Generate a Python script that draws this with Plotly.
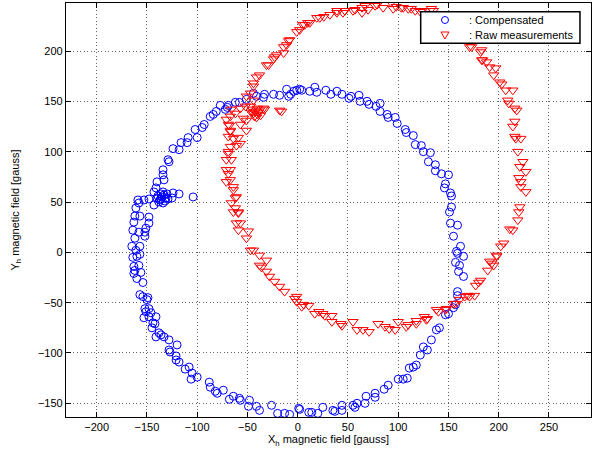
import plotly.graph_objects as go

# Compensated measurements (blue circles)
comp_x = [-141, -143, -140, -134, -134, -133, -129, -128, -124, -118, -116, -110, -109, -102, -100, -95, -93, -87, -84, -81,
          -77, -72, -70, -69, -62, -58, -51, -44, -41, -34, -33, -24, -18, -11, -9, -7, -4, -1, 2, 4,
          12, 17, 19, 28, 33, 39, 44, 51, 53, 61, 62, 69, 71, 78, 82, 82, 89, 90, 97, 99,
          107, 108, 115, 117, 123, 125, 132, 130, 137, 137, 143, 150, 147, 146, 152, 153, 153, 151, 152, 159,
          155, 158, 159, 162, 165, 157, 161, 160, 165, 159, 159, 157, 155, 150, 147, 141, 138, 133, 125, 129,
          122, 118, 115, 111, 109, 105, 100, 90, 86, 77, 77, 68, 67, 59, 55, 57, 44, 44, 35, 37,
          25, 20, 14, 11, 2, 1, -8, -13, -20, -26, -38, -41, -49, -48, -57, -58, -64, -68, -74, -80,
          -82, -87, -88, -100, -106, -105, -108, -112, -118, -121, -121, -127, -128, -120, -128, -133, -136, -141, -138, -145,
          -142, -144, -141, -148, -153, -146, -151, -148, -152, -150, -154, -157, -149, -154, -160, -156, -163, -162, -163, -158,
          -160, -157, -164, -161, -157, -165, -162, -152, -158, -164, -152, -151, -148, -163, -162, -157, -148, -161, -158, -153,
          -148, -143, -159, -135, -137, -133, -131, -136, -138, -132, -134, -130, -139, -134, -129, -136, -140, -125, -124, -118,
          -104]
comp_y = [64, 60, 70, 82, 77, 72, 92, 90, 103, 102, 109, 109, 114, 122, 114, 124, 127, 135, 137, 140,
          146, 142, 144, 146, 149, 149, 152, 158, 155, 154, 157, 157, 156, 162, 155, 157, 160, 161, 162, 161,
          160, 164, 159, 161, 157, 160, 157, 153, 155, 156, 150, 150, 147, 145, 148, 140, 137, 134, 134, 128,
          122, 119, 116, 107, 106, 100, 99, 90, 87, 81, 78, 77, 68, 64, 59, 56, 45, 40, 29, 27,
          16, 1, -1, 6, -4, -10, -13, -19, -24, -39, -43, -52, -55, -61, -62, -75, -77, -87, -94, -97,
          -102, -112, -114, -115, -125, -126, -126, -132, -136, -140, -144, -143, -150, -150, -152, -154, -152, -157, -157, -158,
          -154, -160, -159, -159, -156, -155, -161, -160, -160, -152, -157, -153, -153, -147, -147, -145, -143, -146, -137, -140,
          -138, -134, -129, -124, -126, -120, -114, -116, -109, -107, -103, -99, -97, -92, -87, -84, -82, -84, -80, -75,
          -71, -70, -64, -64, -65, -60, -59, -56, -56, -47, -44, -42, -45, -30, -26, -20, -21, -18, -14, -13,
          -4, -2, -5, 2, 6, 6, 14, 16, 20, 22, 20, 24, 29, 30, 36, 36, 35, 44, 49, 52,
          53, 47, 52, 55, 52, 57, 54, 58, 50, 51, 60, 58, 56, 49, 53, 53, 54, 54, 59, 58,
          55]

# Raw measurements (red triangles)
raw_x = [-1, -3, -1, 6, 4, 11, -13, -18, -23, -28, -31, -38, -36, -31, -38, -44, -47, -49, -51, -59,
         -61, -57, -59, -64, -59, -66, -62, -62, -61, -64, -64, -71, -67, -69, -67, -71, -71, -66, -69, -69,
         -67, -61, -57, -59, -64, -69, -67, -67, -51, -57, -69, -68, -51, -54, -71, -67, -62, -66, -57, -52,
         -44, -42, -40, -45, -38, -43, -40, -46, -41, -39, -47, -37, -44, -51, -47, -44, -44, -41, -38, -34,
         -33, -16, -18, -31, -29, -24, -21, -23, -14, -14, -11, -8, -9, -1, 2, 5, 7, 10, 12, 19,
         22, 26, 32, 39, 39, 45, 47, 55, 57, 64, 64, 67, 70, 77, 79, 85, 93, 95, 98, 103,
         105, 110, 113, 117, 122, 124, 133, 135, 145, 152, 158, 163, 167, 171, 173, 182, 183, 183, 184, 188,
         191, 197, 195, 201, 203, 207, 214, 209, 210, 216, 218, 216, 214, 216, 222, 217, 219, 224, 221, 227,
         220, 222, 222, 227, 221, 220, 219, 211, 214, 205, 202, 198, 198, 191, 195, 189, 193, 182, 180, 177,
         176, 169, 171, 166, 161, 157, 155, 148, 147, 140, 138, 129, 128, 126, 118, 118, 108, 110, 100, 97,
         91, 87, 80, 71, 65, 59, 55, 43, 44, 34, 34, 25, 27, 21, 17]
raw_y = [-44, -46, -49, -52, -54, -53, -39, -34, -29, -24, -19, -13, -15, -8, -3, 2, 2, 21, 14, 22,
         29, 29, 39, 40, 40, 49, 54, 44, 55, 62, 65, 70, 72, 78, 82, 82, 92, 92, 98, 100,
         105, 106, 108, 114, 113, 115, 120, 121, 121, 127, 127, 126, 131, 133, 132, 135, 138, 142, 143, 145,
         138, 140, 137, 142, 141, 135, 143, 139, 134, 139, 145, 136, 151, 155, 158, 165, 168, 174, 176, 143,
         142, 140, 141, 186, 186, 192, 196, 194, 198, 204, 206, 211, 210, 219, 221, 226, 226, 228, 228, 233,
         233, 234, 236, 238, 240, 238, 240, 240, 241, 238, 243, 245, 241, 245, 246, 243, 248, 242, 244, 243,
         243, 242, 242, 240, 239, 240, 242, 240, 236, 232, 226, 219, 212, 204, 204, 199, 201, 191, 191, 189,
         184, 183, 176, 169, 167, 161, 161, 151, 148, 143, 141, 130, 125, 115, 113, 113, 100, 90, 85, 80,
         74, 70, 65, 60, 45, 40, 32, 23, 22, 9, 6, -3, -4, -9, -13, -18, -11, -28, -30, -33,
         -43, -43, -44, -44, -47, -51, -51, -56, -57, -59, -57, -66, -67, -64, -68, -71, -74, -72, -69, -77,
         -76, -74, -71, -79, -77, -77, -69, -71, -73, -63, -69, -61, -63, -59, -61]

x_ticks = [-200, -150, -100, -50, 0, 50, 100, 150, 200, 250]
y_ticks = [-150, -100, -50, 0, 50, 100, 150, 200]
legend_labels = [": Compensated", ": Raw measurements"]

BLUE = "#0000ff"
RED = "#ff0000"

fig = go.Figure()
fig.add_trace(go.Scatter(
    x=comp_x, y=comp_y, mode="markers", name=legend_labels[0], showlegend=False,
    marker=dict(symbol="circle-open", size=8, color=BLUE, line=dict(width=1, color=BLUE)),
))
fig.add_trace(go.Scatter(
    x=raw_x, y=raw_y, mode="markers", name=legend_labels[1], showlegend=False,
    marker=dict(symbol="triangle-down-open", size=9, color=RED, line=dict(width=1, color=RED)),
))

font_family = "Liberation Sans, Arial, sans-serif"
axis_common = dict(
    showline=True, linecolor="black", linewidth=1.2, mirror="ticks",
    ticks="inside", ticklen=5, tickcolor="black", tickwidth=1,
    showgrid=True, gridcolor="rgba(0,0,0,0.6)", griddash="1px,2.5px", gridwidth=1,
    zeroline=False, automargin=False,
    tickfont=dict(family=font_family, size=11, color="black"),
)

# Compact MATLAB-style legend box (drawn above the data, hiding points under it)
lx0, lx1, ly0, ly1 = 0.6756, 0.979, 0.9027, 0.979
sym_x = 0.7219
row_y = [0.9589, 0.9227]
text_x = 0.7632

shapes = [
    dict(type="rect", xref="paper", yref="paper", x0=lx0, x1=lx1, y0=ly0, y1=ly1,
         fillcolor="white", line=dict(color="black", width=1.5), layer="above"),
    dict(type="circle", xref="paper", yref="paper", xsizemode="pixel", ysizemode="pixel",
         xanchor=sym_x, yanchor=row_y[0], x0=-3.5, x1=3.5, y0=-3.5, y1=3.5,
         line=dict(color=BLUE, width=1), layer="above"),
    dict(type="path", xref="paper", yref="paper", xsizemode="pixel", ysizemode="pixel",
         xanchor=sym_x, yanchor=row_y[1], path="M-4,3 L4,3 L0,-4 Z",
         line=dict(color=RED, width=1), layer="above"),
]
annotations = [
    dict(xref="paper", yref="paper", x=text_x, y=row_y[i], text=legend_labels[i],
         showarrow=False, xanchor="left", yanchor="middle",
         font=dict(family=font_family, size=11, color="black"))
    for i in range(2)
]

fig.update_layout(
    width=602, height=457,
    margin=dict(l=66, r=11, t=3, b=40),
    paper_bgcolor="white", plot_bgcolor="white",
    font=dict(family=font_family, size=11, color="black"),
    xaxis=dict(range=[-230.5, 291.8], tickvals=x_ticks,
               title=dict(text="X<sub>h</sub> magnetic field [gauss]", standoff=2,
                          font=dict(family=font_family, size=11)),
               **axis_common),
    yaxis=dict(range=[-163.6, 247.7], tickvals=y_ticks,
               title=dict(text="Y<sub>h</sub> magnetic field [gauss]", standoff=16,
                          font=dict(family=font_family, size=11)),
               **axis_common),
    shapes=shapes,
    annotations=annotations,
    showlegend=False,
    hovermode=False,
)

fig.write_html("out.html", config={"displayModeBar": False},
               post_script="document.body.style.margin='0px';")
